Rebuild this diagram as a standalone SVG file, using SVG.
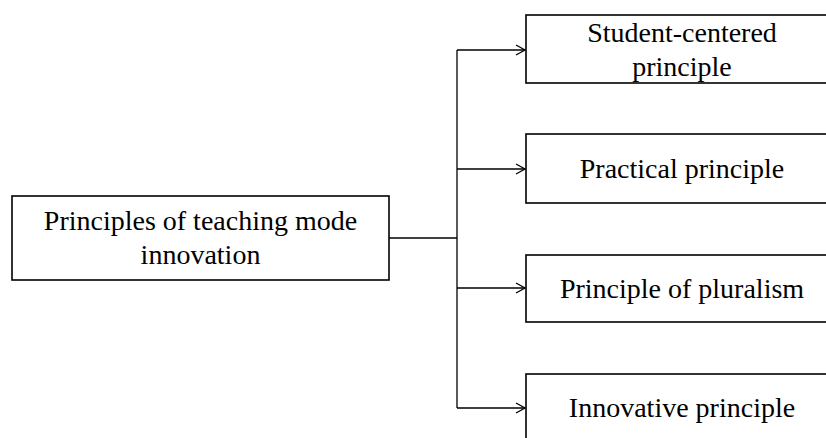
<svg xmlns="http://www.w3.org/2000/svg" width="826" height="438" viewBox="0 0 826 438">
<style>
.box{fill:#fff;stroke:#000;stroke-width:1.6}
.t{font-family:"Liberation Serif","Times New Roman",serif;font-size:28px;fill:#000;text-anchor:middle}
.c{fill:none;stroke:#000;stroke-width:1.3}
</style>
<defs>
<marker id="arr" markerWidth="12" markerHeight="12" refX="10" refY="6" orient="auto" markerUnits="userSpaceOnUse">
<path d="M1,1 L10,6 L1,11" fill="none" stroke="#000" stroke-width="1.3"/>
</marker>
</defs>
<g id="connectors">
<path class="c" d="M389,238 H457"/>
<path class="c" d="M457,50 V408"/>
<path class="c" d="M457,50 H525" marker-end="url(#arr)"/>
<path class="c" d="M457,169 H525" marker-end="url(#arr)"/>
<path class="c" d="M457,288 H525" marker-end="url(#arr)"/>
<path class="c" d="M457,408 H525" marker-end="url(#arr)"/>
</g>
<g id="root">
<rect class="box" x="12" y="196" width="377" height="84"/>
<text class="t" x="200.5" y="230">Principles of teaching mode</text>
<text class="t" x="200.5" y="264">innovation</text>
</g>
<g id="n1">
<rect class="box" x="526" y="15" width="312" height="68"/>
<text class="t" x="682" y="42">Student-centered</text>
<text class="t" x="682" y="76">principle</text>
</g>
<g id="n2">
<rect class="box" x="526" y="134" width="312" height="69"/>
<text class="t" x="682" y="178">Practical principle</text>
</g>
<g id="n3">
<rect class="box" x="526" y="255" width="312" height="67"/>
<text class="t" x="682" y="298">Principle of pluralism</text>
</g>
<g id="n4">
<rect class="box" x="526" y="374" width="312" height="70"/>
<text class="t" x="682" y="417">Innovative principle</text>
</g>
</svg>
